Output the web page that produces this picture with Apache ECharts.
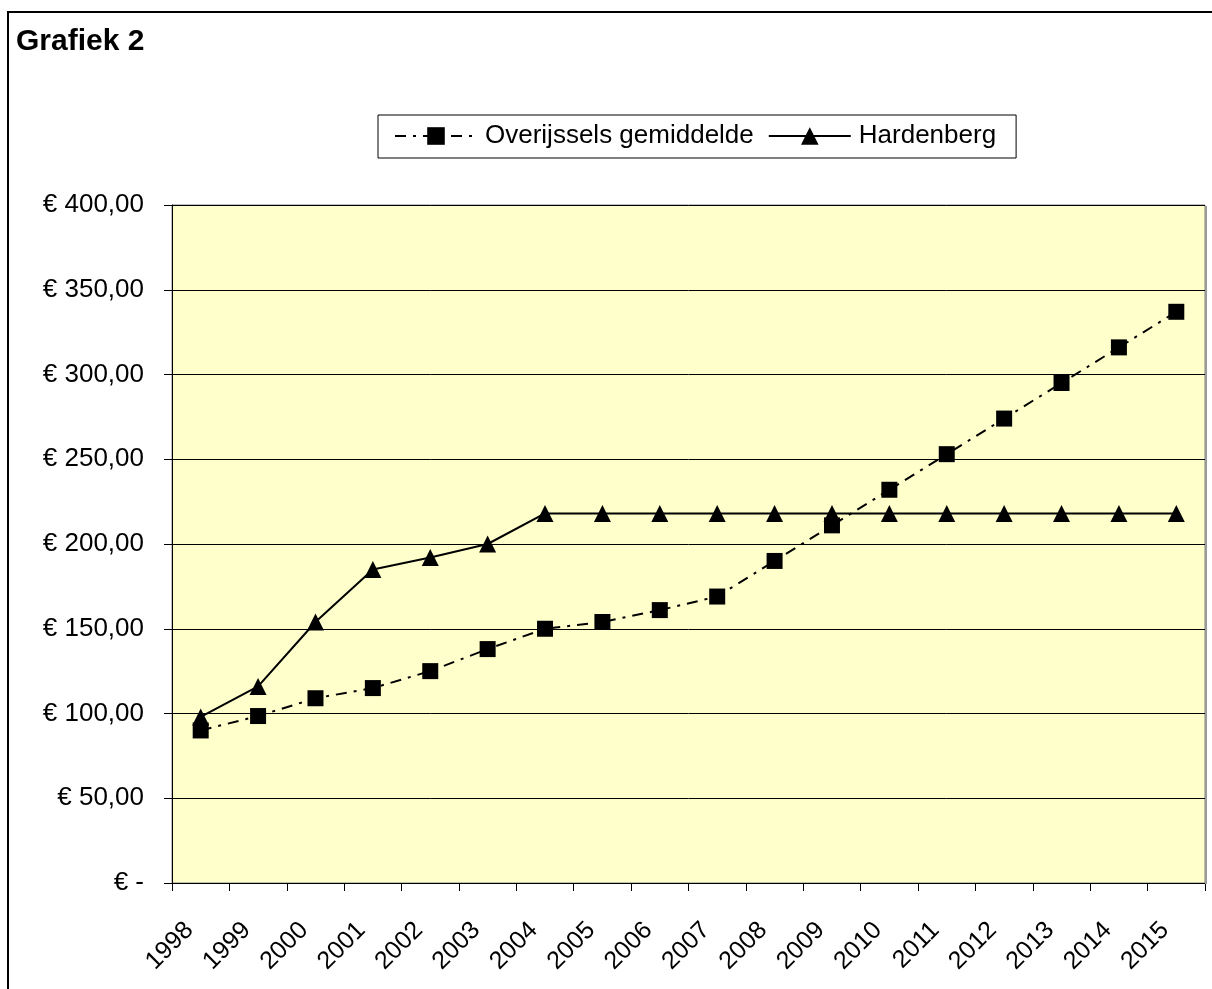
<!DOCTYPE html>
<html>
<head>
<meta charset="utf-8">
<script src="https://cdn.jsdelivr.net/npm/echarts@6/dist/echarts.min.js"></script>
<style>
html,body{margin:0;padding:0;background:#fff;}
#chart{width:1212px;height:989px;}
</style>
</head>
<body>
<div id="chart"></div>
<script>
const years = ['1998','1999','2000','2001','2002','2003','2004','2005','2006','2007','2008','2009','2010','2011','2012','2013','2014','2015'];
const overijssels = [90, 98.5, 109, 115, 125, 138, 150, 154, 161, 169, 190, 211, 232, 253, 274, 295, 316, 337];
const hardenberg = [98, 116, 154, 185, 192, 200, 218, 218, 218, 218, 218, 218, 218, 218, 218, 218, 218, 218];
const seriesNames = ['Overijssels gemiddelde', 'Hardenberg'];
const titleText = 'Grafiek 2';

const FONT = '"Liberation Sans", Arial, sans-serif';
const chart = echarts.init(document.getElementById('chart'));

function fmtEuro(v) {
  if (v === 0) return '€ -';
  return '€ ' + v.toFixed(2).replace('.', ',');
}

chart.setOption({
  animation: false,
  backgroundColor: '#ffffff',
  textStyle: { fontFamily: FONT, color: '#000' },
  title: {
    text: titleText,
    left: 16, top: 27, padding: 0,
    textStyle: { fontFamily: FONT, fontWeight: 'bold', fontSize: 30, color: '#000' }
  },
  graphic: [
    { type: 'rect', shape: { x: 8, y: 12, width: 1300, height: 1100 }, style: { fill: 'none', stroke: '#000', lineWidth: 2 }, z: 100 },
    { type: 'line', shape: { x1: 1206, y1: 206, x2: 1206, y2: 884 }, style: { stroke: '#9a9a9a', lineWidth: 2 }, z: 5 }
  ],
  legend: {
    left: 378, top: 115,
    padding: [8, 20, 9, 16],
    borderColor: '#000', borderWidth: 1,
    itemWidth: 82, itemHeight: 22, itemGap: 14,
    textStyle: { fontFamily: FONT, fontSize: 26, color: '#000', padding: [0, 0, 0, 3] },
    data: seriesNames
  },
  grid: {
    left: 172, top: 205, right: 7, bottom: 106,
    show: true, backgroundColor: '#ffffcc', borderColor: '#808080', borderWidth: 1
  },
  xAxis: {
    type: 'category', data: years, boundaryGap: true,
    axisLine: { lineStyle: { color: '#000', width: 1 } },
    axisTick: { show: true, length: 8, lineStyle: { color: '#000' } },
    axisLabel: { rotate: 45, margin: 32, padding: [0, 16, 0, 0], fontSize: 25, fontFamily: FONT, color: '#000', interval: 0 },
    splitLine: { show: false }
  },
  yAxis: {
    type: 'value', min: 0, max: 400, interval: 50,
    axisLine: { show: true, lineStyle: { color: '#000', width: 1 } },
    axisTick: { show: true, length: 8, lineStyle: { color: '#000' } },
    axisLabel: { margin: 28, fontSize: 26, fontFamily: FONT, color: '#000', formatter: fmtEuro },
    splitLine: { show: true, lineStyle: { color: '#000', width: 1 } }
  },
  series: [
    {
      name: seriesNames[0], type: 'line', data: overijssels,
      symbol: 'rect', symbolSize: 16, showAllSymbol: true,
      lineStyle: { color: '#000', width: 2, type: [11, 7, 3, 7] },
      itemStyle: { color: '#000' }, z: 3
    },
    {
      name: seriesNames[1], type: 'line', data: hardenberg,
      symbol: 'triangle', symbolSize: 17, showAllSymbol: true,
      lineStyle: { color: '#000', width: 2, type: 'solid' },
      itemStyle: { color: '#000' }, z: 4
    }
  ]
});
</script>
</body>
</html>
